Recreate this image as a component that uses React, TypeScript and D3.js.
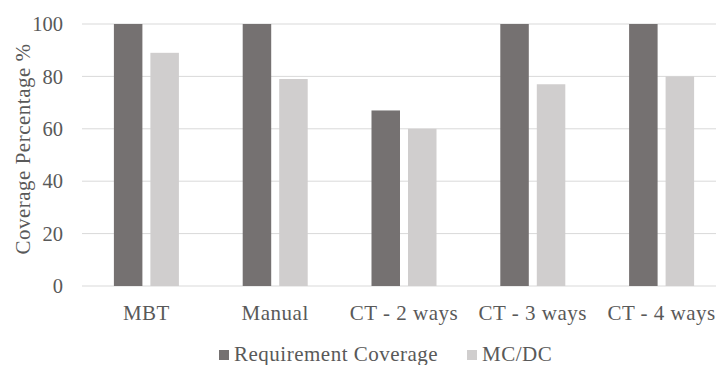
import React from "react";
import * as d3 from "d3";

const categories = ["MBT", "Manual", "CT - 2 ways", "CT - 3 ways", "CT - 4 ways"];
const requirementCoverage = [100, 100, 67, 100, 100];
const mcdc = [89, 79, 60, 77, 80];
const seriesNames = ["Requirement Coverage", "MC/DC"];
const yTicks = [0, 20, 40, 60, 80, 100];

const W = 716;
const H = 365;
const margin = { left: 82, right: -10, top: 24, bottom: 79 };
const colors = ["#757171", "#D0CECE"];
const textColor = "#595959";
const font = "'Liberation Serif', 'DejaVu Serif', 'Times New Roman', Times, serif";

export default function App() {
  const x = d3
    .scaleBand<string>()
    .domain(categories)
    .range([margin.left, W - margin.right]);
  const y = d3
    .scaleLinear()
    .domain([0, 100])
    .range([H - margin.bottom, margin.top]);

  const barW = 28.5;
  const gap = 8;
  const series = [requirementCoverage, mcdc];
  const tickStyle = { fontFamily: font, fontSize: 20.5, fill: textColor } as const;
  const labelStyle = {
    fontFamily: font,
    fontSize: 21,
    fill: textColor,
    letterSpacing: "0.5px",
  } as const;

  return (
    <svg
      width={W}
      height={H}
      style={{ position: "absolute", left: 0, top: 0, background: "#fff" }}
    >
      {yTicks.map((t) => (
        <g key={t}>
          <line
            x1={margin.left}
            x2={W}
            y1={y(t)}
            y2={y(t)}
            stroke="#D9D9D9"
            strokeWidth={1}
          />
          <text x={63} y={y(t)} dy="0.35em" textAnchor="end" style={tickStyle}>
            {t}
          </text>
        </g>
      ))}
      {categories.map((c, i) => {
        const cx = (x(c) ?? 0) + x.bandwidth() / 2;
        return (
          <g key={c}>
            {series.map((s, k) => {
              const bx = k === 0 ? cx - gap / 2 - barW : cx + gap / 2;
              return (
                <rect
                  key={k}
                  x={bx}
                  y={y(s[i])}
                  width={barW}
                  height={y(0) - y(s[i])}
                  fill={colors[k]}
                />
              );
            })}
            <text x={cx} y={319.5} textAnchor="middle" style={labelStyle}>
              {c}
            </text>
          </g>
        );
      })}
      <text
        transform={`translate(30,149) rotate(-90)`}
        textAnchor="middle"
        style={labelStyle}
      >
        Coverage Percentage %
      </text>
      <g>
        <rect x={219} y={350} width={10} height={10} fill={colors[0]} />
        <text x={234} y={361} style={labelStyle}>
          {seriesNames[0]}
        </text>
        <rect x={467} y={350} width={10} height={10} fill={colors[1]} />
        <text x={482} y={361} style={labelStyle}>
          {seriesNames[1]}
        </text>
      </g>
    </svg>
  );
}
